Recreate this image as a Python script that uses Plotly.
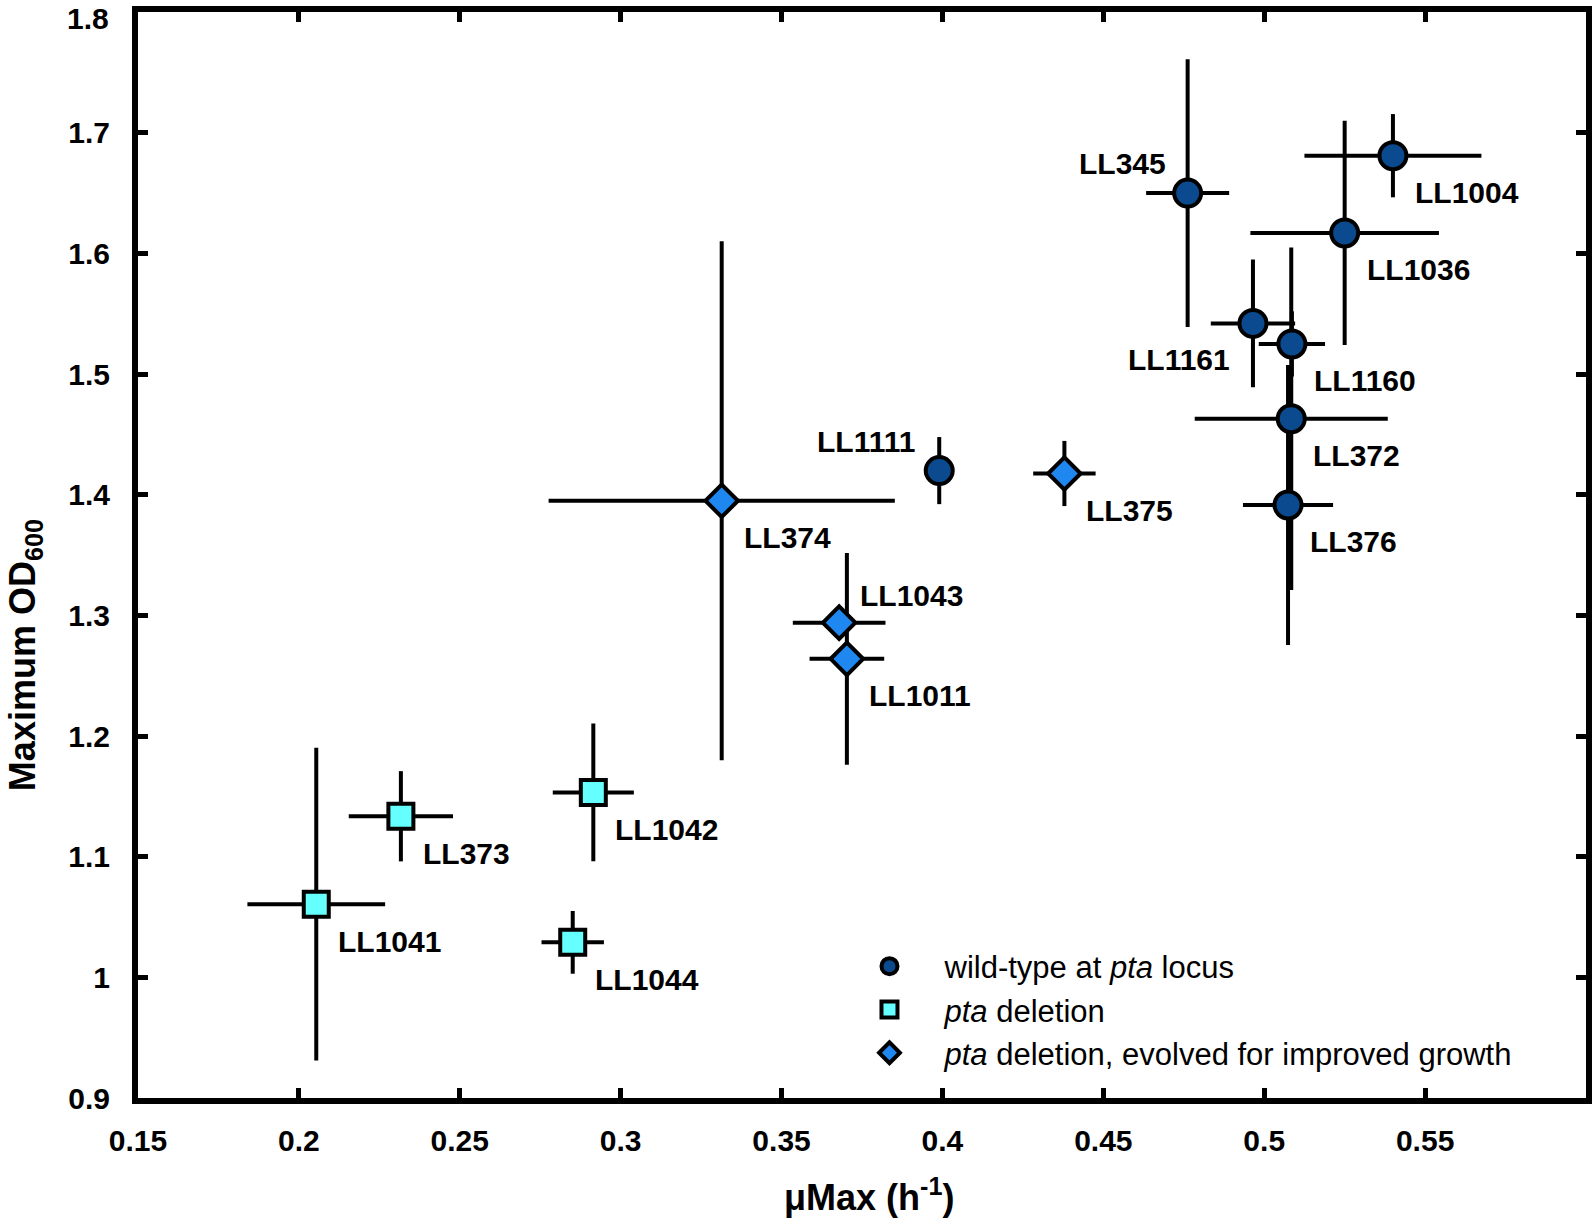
import plotly.graph_objects as go

# ---------------- data ----------------
wt_names = ["LL345", "LL1004", "LL1036", "LL1161", "LL1160", "LL372", "LL376", "LL1111"]
wt_mu = [0.4762, 0.5400, 0.5250, 0.4965, 0.5086, 0.5084, 0.5074, 0.3990]
wt_od = [1.650, 1.681, 1.617, 1.542, 1.525, 1.463, 1.3915, 1.420]
wt_mu_err = [0.0129, 0.0275, 0.0293, 0.0131, 0.0103, 0.0300, 0.0140, 0.0030]
wt_od_err = [0.111, 0.0345, 0.093, 0.053, 0.027, 0.142, 0.116, 0.0278]

del_names = ["LL373", "LL1042", "LL1041", "LL1044"]
del_mu = [0.2317, 0.2915, 0.2054, 0.2851]
del_od = [1.1335, 1.1533, 1.0606, 1.0290]
del_mu_err = [0.0162, 0.0126, 0.0214, 0.0097]
del_od_err = [0.0374, 0.057, 0.1296, 0.026]

evo_names = ["LL374", "LL1043", "LL1011", "LL375"]
evo_mu = [0.3314, 0.3679, 0.3703, 0.4379]
evo_od = [1.395, 1.294, 1.264, 1.4176]
evo_mu_err = [0.0538, 0.0144, 0.0116, 0.0097]
evo_od_err = [0.215, 0.010, 0.0877, 0.027]

x_tickvals = [0.15, 0.2, 0.25, 0.3, 0.35, 0.4, 0.45, 0.5, 0.55]
x_ticktext = ["0.15", "0.2", "0.25", "0.3", "0.35", "0.4", "0.45", "0.5", "0.55"]
y_tickvals = [0.9, 1.0, 1.1, 1.2, 1.3, 1.4, 1.5, 1.6, 1.7, 1.8]
y_ticktext = ["0.9", "1", "1.1", "1.2", "1.3", "1.4", "1.5", "1.6", "1.7", "1.8"]

series_names = ["wild-type at <i>pta</i> locus", "<i>pta</i> deletion",
                "<i>pta</i> deletion, evolved for improved growth"]

# label placement style: (xanchor, xshift, yshift)
label_style = {
    "LL345": ("right", -20, 30), "LL1161": ("right", -21, -36), "LL1111": ("right", -22, 29),
    "LL1043": ("left", 19, 27),
}
default_style = ("left", 20, -37)

FONT = "Liberation Sans, Arial, sans-serif"
TICKFONT = dict(family=FONT, size=30, color="black", weight="bold")

fig = go.Figure()

def add_series(names, mu, od, mue, ode, symbol, color, size, lw, legname):
    fig.add_trace(go.Scatter(
        x=mu, y=od, mode="markers", name=legname, text=names,
        marker=dict(symbol=symbol, size=size, color=color, line=dict(color="black", width=lw)),
        error_x=dict(type="data", array=mue, visible=True, color="black", thickness=4, width=0),
        error_y=dict(type="data", array=ode, visible=True, color="black", thickness=4, width=0),
    ))
    for n, xv, yv in zip(names, mu, od):
        xa, xs, ys = label_style.get(n, default_style)
        fig.add_annotation(x=xv, y=yv, xref="x", yref="y", text=n, showarrow=False,
                           xanchor=xa, yanchor="middle", xshift=xs, yshift=ys,
                           font=dict(family=FONT, size=30, color="black", weight="bold"))

add_series(wt_names, wt_mu, wt_od, wt_mu_err, wt_od_err, "circle", "#0B4A8E", 27, 4, series_names[0])
add_series(del_names, del_mu, del_od, del_mu_err, del_od_err, "square", "#66FFFF", 25, 4, series_names[1])
add_series(evo_names, evo_mu, evo_od, evo_mu_err, evo_od_err, "diamond", "#1E88F0", 25, 4, series_names[2])

axis_common = dict(
    showline=True, linecolor="black", linewidth=6, mirror="allticks",
    ticks="inside", ticklen=10, tickwidth=5, tickcolor="black",
    showgrid=False, zeroline=False, ticklabeloverflow="allow", automargin=False,
    tickfont=TICKFONT,
)

# the top y tick label sits a little lower than its tick (as in the source), so it is
# drawn as an annotation tied to that tick value
y_ticktext_axis = [t if v != y_tickvals[-1] else "" for v, t in zip(y_tickvals, y_ticktext)]

fig.update_xaxes(range=[0.15, 0.6], tickvals=x_tickvals, ticktext=x_ticktext,
                 ticklabelstandoff=11, **axis_common)
fig.update_yaxes(range=[0.9, 1.8001], tickvals=y_tickvals, ticktext=y_ticktext_axis,
                 ticklabelstandoff=16, **axis_common)

fig.add_annotation(xref="paper", yref="y", x=0, y=y_tickvals[-1], text=y_ticktext[-1],
                   showarrow=False, xanchor="right", yanchor="middle", xshift=-27, yshift=-6,
                   font=TICKFONT)

fig.add_annotation(xref="paper", yref="paper", x=0.505, y=-0.089, text="μMax (h<sup>-1</sup>)",
                   showarrow=False, xanchor="center", yanchor="middle",
                   font=dict(family=FONT, size=36, color="black", weight="bold"))
fig.add_annotation(xref="paper", yref="paper", x=-0.0775, y=0.4076, text="Maximum OD<sub>600</sub>",
                   showarrow=False, xanchor="center", yanchor="middle", textangle=-90,
                   font=dict(family=FONT, size=36, color="black", weight="bold"))

fig.update_layout(
    width=1595, height=1221,
    margin=dict(l=138, r=9, t=12, b=123, autoexpand=False),
    paper_bgcolor="white", plot_bgcolor="white",
    showlegend=True,
    legend=dict(x=0.481, y=0.0815, xanchor="left", yanchor="middle",
                bgcolor="rgba(0,0,0,0)", borderwidth=0,
                font=dict(family=FONT, size=31, color="black"),
                itemwidth=100, tracegroupgap=0),
)

fig.write_html("out.html", config={"displayModeBar": False},
               post_script="document.body.style.margin='0';document.body.style.overflow='hidden';")
